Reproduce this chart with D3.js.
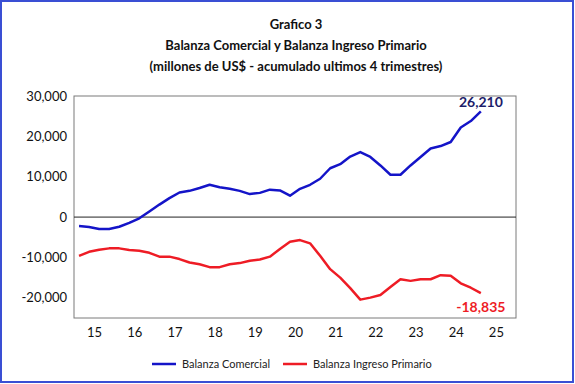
<!DOCTYPE html>
<html>
<head>
<meta charset="utf-8">
<script src="https://cdn.jsdelivr.net/npm/d3@7"></script>
<style>
	body { margin: 0; background: #fff; }
	svg { display: block; }
</style>
</head>
<body>
<div id="chart"></div>
<script>
// quarters 2015Q1 .. 2025Q1
var quarters = [];
for (var yr = 2015; yr <= 2025; yr++) {
	for (var q = 1; q <= 4; q++) {
		if (yr === 2025 && q > 1) break;
		quarters.push(yr + '-Q' + q);
	}
}

var balanzaComercial = [
	-2200, -2450, -2950, -2950, -2400, -1450, -300, 1400, 3100, 4700,
	6100, 6500, 7200, 8000, 7400, 7000, 6500, 5700, 6000, 6800,
	6600, 5300, 7000, 8000, 9500, 12100, 13100, 15000, 16100, 14900,
	12800, 10500, 10500, 12800, 14900, 17000, 17600, 18600, 22200, 23800,
	26210
];

var balanzaIngresoPrimario = [
	-9600, -8600, -8100, -7750, -7750, -8150, -8350, -8850, -9800, -9800,
	-10400, -11250, -11700, -12400, -12400, -11700, -11400, -10800, -10500, -9800,
	-7900, -6100, -5700, -6500, -9600, -12900, -15000, -17600, -20450, -19950,
	-19300, -17300, -15400, -15800, -15400, -15400, -14400, -14550, -16400, -17500,
	-18835
];

var yTicks = [-20000, -10000, 0, 10000, 20000, 30000];
var xYears = [2015, 2016, 2017, 2018, 2019, 2020, 2021, 2022, 2023, 2024, 2025];

var titleLines = [
	'Grafico 3',
	'Balanza Comercial y Balanza Ingreso Primario',
	'(millones de US$ - acumulado ultimos 4 trimestres)'
];

var width = 575, height = 384;
var font = 'Lato, "Open Sans", sans-serif';

// plain hyphen for negatives, like the original
var fmt = d3.formatLocale({
	decimal: '.', thousands: ',', grouping: [3], currency: ['$', ''], minus: '-'
}).format(',');

var svg = d3.select('#chart')
	.append('svg')
	.attr('width', width)
	.attr('height', height);

//outer frame
svg.append('rect')
	.attr('x', 1)
	.attr('y', 1)
	.attr('width', width - 3)
	.attr('height', height - 3)
	.attr('fill', '#fff')
	.attr('stroke', '#3a4fd4')
	.attr('stroke-width', 2);

//title
svg.append('g')
	.selectAll('text')
	.data(titleLines)
	.enter()
	.append('text')
	.attr('x', 296)
	.attr('y', function (d, i) { return 29 + i * 21; })
	.attr('text-anchor', 'middle')
	.attr('font-family', font)
	.attr('font-weight', 'bold')
	.attr('font-size', 13)
	.attr('fill', '#111')
	.text(function (d) { return d; });

var plot = { left: 74, right: 516, top: 96, bottom: 318 };

// x is position in years, each quarter sits at the middle of its slot
var x = d3.scaleLinear()
	.domain([2015, 2026])
	.range([plot.left, plot.right]);

var y = d3.scaleLinear()
	.domain([-25000, 30000])
	.range([plot.bottom, plot.top]);

function qPos(i) {
	return 2015 + i / 4 + 0.125;
}

//plot border
svg.append('rect')
	.attr('x', plot.left)
	.attr('y', plot.top)
	.attr('width', plot.right - plot.left)
	.attr('height', plot.bottom - plot.top)
	.attr('fill', 'none')
	.attr('stroke', '#7a7a7a')
	.attr('stroke-width', 1);

//zero line
svg.append('line')
	.attr('x1', plot.left)
	.attr('x2', plot.right)
	.attr('y1', y(0))
	.attr('y2', y(0))
	.attr('stroke', '#222')
	.attr('stroke-width', 1);

//y axis labels
var yAxis = d3.axisLeft(y)
	.tickValues(yTicks)
	.tickSize(0)
	.tickPadding(7)
	.tickFormat(fmt);

svg.append('g')
	.attr('transform', 'translate(' + plot.left + ',0)')
	.call(yAxis)
	.call(function (g) {
		g.select('.domain').remove();
		g.selectAll('text')
			.attr('font-family', font)
			.attr('font-size', 13)
			.attr('fill', '#111');
	});

//x axis labels (year centres)
var xAxis = d3.axisBottom(x)
	.tickValues(xYears.map(function (d) { return d + 0.5; }))
	.tickSize(0)
	.tickPadding(10)
	.tickFormat(function (d) { return String(Math.floor(d)).slice(2); });

svg.append('g')
	.attr('transform', 'translate(0,' + plot.bottom + ')')
	.call(xAxis)
	.call(function (g) {
		g.select('.domain').remove();
		g.selectAll('text')
			.attr('font-family', font)
			.attr('font-size', 13)
			.attr('fill', '#111');
	});

var line = d3.line()
	.x(function (d, i) { return x(qPos(i)); })
	.y(function (d) { return y(d); });

var series = [
	{ name: 'Balanza Comercial', values: balanzaComercial, color: '#1414c8' },
	{ name: 'Balanza Ingreso Primario', values: balanzaIngresoPrimario, color: '#ee1c25' }
];

svg.append('g')
	.selectAll('path')
	.data(series)
	.enter()
	.append('path')
	.attr('d', function (d) { return line(d.values); })
	.attr('fill', 'none')
	.attr('stroke', function (d) { return d.color; })
	.attr('stroke-width', 2.5)
	.attr('stroke-linejoin', 'round');

//end value labels
var lastI = balanzaComercial.length - 1;
svg.append('text')
	.attr('x', x(qPos(lastI)))
	.attr('y', y(balanzaComercial[lastI]) - 4)
	.attr('text-anchor', 'middle')
	.attr('font-family', font)
	.attr('font-weight', 'bold')
	.attr('font-size', 14)
	.attr('fill', '#1c1c6a')
	.text(fmt(balanzaComercial[lastI]));

svg.append('text')
	.attr('x', x(qPos(lastI)))
	.attr('y', y(balanzaIngresoPrimario[lastI]) + 19)
	.attr('text-anchor', 'middle')
	.attr('font-family', font)
	.attr('font-weight', 'bold')
	.attr('font-size', 14)
	.attr('fill', '#ee1c25')
	.text(fmt(balanzaIngresoPrimario[lastI]));

//legend
var legendX = [152, 283];
var legend = svg.append('g')
	.selectAll('g')
	.data(series)
	.enter()
	.append('g')
	.attr('transform', function (d, i) { return 'translate(' + legendX[i] + ',364)'; });

legend.append('line')
	.attr('x1', 0)
	.attr('x2', 24)
	.attr('stroke', function (d) { return d.color; })
	.attr('stroke-width', 2.5);

legend.append('text')
	.attr('x', 30)
	.attr('y', 4)
	.attr('font-family', font)
	.attr('font-size', 11)
	.attr('fill', '#222')
	.text(function (d) { return d.name; });
</script>
</body>
</html>
